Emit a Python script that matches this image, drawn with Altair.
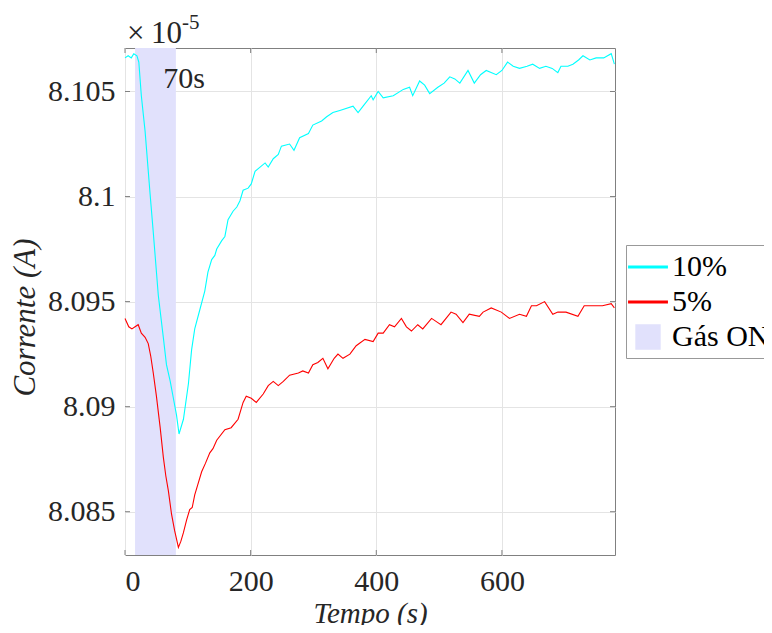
import altair as alt
import pandas as pd

# ---------------- data ----------------
cyan_t = [0, 5, 10, 14, 19, 22, 26, 32, 40, 45, 53, 61, 66, 72, 77, 82, 86, 93, 101, 106,
          111, 119, 127, 132, 138, 143, 146, 154, 159, 164, 172, 178, 183, 188, 196, 201, 207,
          215, 223, 228, 236, 244, 249, 262, 269, 278, 292, 299, 313, 321, 331, 342, 363, 371,
          379, 392, 395, 403, 411, 427, 443, 453, 458, 469, 477, 485, 498, 508, 517, 525, 533,
          546, 556, 566, 575, 591, 600, 609, 618, 628, 640, 649, 660, 670, 680, 689, 694, 705,
          713, 722, 729, 740, 750, 762, 774, 779]
cyan_v = [8.1066, 8.1067, 8.1066, 8.1068, 8.1067, 8.1064, 8.1048, 8.1031, 8.1001, 8.0983,
          8.0953, 8.0933, 8.0920, 8.0912, 8.0904, 8.0896, 8.0887, 8.0894, 8.0911, 8.0927,
          8.0937, 8.0946, 8.0955, 8.0964, 8.0970, 8.0972, 8.0975, 8.0979, 8.0981, 8.0989,
          8.0993, 8.0995, 8.0998, 8.1003, 8.1004, 8.1006, 8.1012, 8.1014, 8.1016, 8.1014,
          8.1018, 8.1020, 8.1024, 8.1025, 8.1022, 8.1028, 8.1030, 8.1034, 8.1036, 8.1038,
          8.1040, 8.1041, 8.1043, 8.1040, 8.1043, 8.1048, 8.1046, 8.1050, 8.1047, 8.1048,
          8.1051, 8.1052, 8.1048, 8.1055, 8.1053, 8.1049, 8.1052, 8.1054, 8.1057, 8.1056,
          8.1054, 8.1060, 8.1054, 8.1058, 8.1060, 8.1058, 8.1060, 8.1064, 8.1062, 8.1061,
          8.1062, 8.1063, 8.1061, 8.1062, 8.1061, 8.1059, 8.1062, 8.1062, 8.1063, 8.1065,
          8.1067, 8.1065, 8.1066, 8.1066, 8.1068, 8.1063]

red_t = [0, 6, 11, 16, 21, 26, 32, 37, 41, 45, 50, 56, 61, 65, 69, 74, 79, 85, 89, 93,
         98, 103, 107, 111, 116, 122, 128, 135, 140, 146, 159, 169, 180, 188, 193, 201, 209,
         220, 228, 236, 244, 252, 262, 276, 283, 292, 299, 307, 315, 323, 333, 339, 347, 358,
         368, 382, 395, 403, 411, 421, 429, 440, 448, 456, 466, 474, 488, 498, 503, 519, 527,
         538, 548, 564, 570, 583, 599, 612, 628, 639, 647, 655, 668, 681, 689, 702, 721, 731,
         745, 760, 774, 779]
red_v = [8.0942, 8.0938, 8.0937, 8.0938, 8.0939, 8.0935, 8.0933, 8.0930, 8.0924, 8.0916,
         8.0905, 8.0890, 8.0876, 8.0867, 8.0860, 8.0849, 8.0841, 8.0833, 8.0836, 8.0840,
         8.0846, 8.0851, 8.0852, 8.0858, 8.0863, 8.0869, 8.0873, 8.0878, 8.0880, 8.0884,
         8.0889, 8.0890, 8.0894, 8.0902, 8.0905, 8.0904, 8.0902, 8.0906, 8.0910, 8.0912,
         8.0910, 8.0912, 8.0915, 8.0916, 8.0917, 8.0916, 8.0920, 8.0921, 8.0923, 8.0918,
         8.0923, 8.0925, 8.0923, 8.0925, 8.0929, 8.0932, 8.0931, 8.0935, 8.0935, 8.0939,
         8.0938, 8.0942, 8.0938, 8.0936, 8.0939, 8.0937, 8.0942, 8.0940, 8.0939, 8.0945,
         8.0944, 8.0940, 8.0944, 8.0943, 8.0945, 8.0947, 8.0945, 8.0942, 8.0944, 8.0943,
         8.0948, 8.0948, 8.0950, 8.0944, 8.0945, 8.0945, 8.0943, 8.0948, 8.0948, 8.0948,
         8.0949, 8.0947]

gas_start = [16]
gas_end = [81]

series_names = ["10%", "5%", "Gás ON"]
series_colors = ["#00ffff", "#ff0000", "#e1e1fc"]
legend_paths = ["M-1.14,0L1.14,0", "M-1.14,0L1.14,0",
                "M-0.64,-0.64L0.64,-0.64L0.64,0.64L-0.64,0.64Z"]

x_ticks = [0, 200, 400, 600]
y_ticks = [8.085, 8.09, 8.095, 8.1, 8.105]
x_domain = [0, 780]
y_domain = [8.08294, 8.10707]

note_x = [61]
note_y = [8.10516]
note_text = ["70s"]
exp_times = ["×"]
exp_base = ["10"]
exp_power = ["-5"]

x_title = "Tempo (s)"
y_title = "Corrente (A)"

# ---------------- styling ----------------
FONT = "Liberation Serif, DejaVu Serif, Times New Roman, serif"
TXT = "#262626"
BOX = "#808080"
GRID = "#e4e4e4"
W, H = 490, 507

xs = alt.Scale(domain=x_domain, nice=False, zero=False)
ys = alt.Scale(domain=y_domain, nice=False, zero=False)
cs = alt.Scale(domain=series_names, range=series_colors)
ss = alt.Scale(domain=series_names, range=legend_paths)

lines_df = pd.concat([
    pd.DataFrame({"t": red_t, "v": red_v, "series": "5%"}),
    pd.DataFrame({"t": cyan_t, "v": cyan_v, "series": "10%"}),
], ignore_index=True)
gas_df = pd.DataFrame({"s": gas_start, "e": gas_end, "series": ["Gás ON"]})
legend_df = pd.DataFrame({"t": [-1000] * 3, "v": [8.0] * 3, "series": series_names})
xt_df = pd.DataFrame({"t": x_ticks})
yt_df = pd.DataFrame({"v": y_ticks})

x_axis = alt.Axis(values=x_ticks, tickSize=0, labelPadding=11, grid=True, gridColor=GRID,
                  domain=False, labelFont=FONT, labelFontSize=30, labelColor=TXT,
                  title=x_title, titleFont=FONT, titleFontSize=29, titleFontStyle="italic",
                  titleFontWeight="normal", titleColor=TXT, titleBaseline="alphabetic",
                  titleY=67)
y_axis = alt.Axis(values=y_ticks, format="~g", tickSize=0, labelPadding=10, grid=True,
                  gridColor=GRID, domain=False, labelFont=FONT, labelFontSize=30,
                  labelColor=TXT, title=y_title, titleFont=FONT, titleFontSize=31,
                  titleFontStyle="italic", titleFontWeight="normal", titleColor=TXT,
                  titleAngle=270, titleAlign="center", titleBaseline="alphabetic",
                  titleX=-91, titleY=269)

legend = alt.Legend(title=None, orient="none", legendX=501, legendY=197, fillColor="white",
                    strokeColor="#999999", padding=3, labelFont=FONT, labelFontSize=30,
                    labelColor="black", labelOffset=5, symbolStrokeWidth=3, symbolSize=1225,
                    rowPadding=1, labelLimit=0)

legend_layer = alt.Chart(legend_df).mark_point(filled=True, clip=True, opacity=1).encode(
    x=alt.X("t:Q", scale=xs, axis=x_axis),
    y=alt.Y("v:Q", scale=ys, axis=y_axis),
    color=alt.Color("series:N", scale=cs, legend=legend),
    stroke=alt.Stroke("series:N", scale=cs, legend=legend),
    shape=alt.Shape("series:N", scale=ss, legend=legend),
)

gas_layer = alt.Chart(gas_df).mark_rect(opacity=1).encode(
    x=alt.X("s:Q", scale=xs), x2="e:Q",
    y=alt.value(0), y2=alt.value(H),
    color=alt.Color("series:N", scale=cs, legend=None),
)

line_layer = alt.Chart(lines_df).mark_line(strokeWidth=1.1).encode(
    x=alt.X("t:Q", scale=xs),
    y=alt.Y("v:Q", scale=ys),
    color=alt.Color("series:N", scale=cs, legend=None),
    detail="series:N",
)

tick_style = dict(color=BOX, strokeWidth=1)
xt_bottom = alt.Chart(xt_df).mark_rule(**tick_style).encode(
    x=alt.X("t:Q", scale=xs), y=alt.value(H), y2=alt.value(H - 5))
xt_top = alt.Chart(xt_df).mark_rule(**tick_style).encode(
    x=alt.X("t:Q", scale=xs), y=alt.value(0), y2=alt.value(5))
yt_left = alt.Chart(yt_df).mark_rule(**tick_style).encode(
    y=alt.Y("v:Q", scale=ys), x=alt.value(0), x2=alt.value(5))
yt_right = alt.Chart(yt_df).mark_rule(**tick_style).encode(
    y=alt.Y("v:Q", scale=ys), x=alt.value(W), x2=alt.value(W - 5))

note_layer = alt.Chart(pd.DataFrame({"x": note_x, "y": note_y, "txt": note_text})).mark_text(
    font=FONT, fontSize=30, align="left", baseline="alphabetic", color=TXT
).encode(x=alt.X("x:Q", scale=xs), y=alt.Y("y:Q", scale=ys), text="txt:N")

exp_times_layer = alt.Chart(pd.DataFrame({"txt": exp_times})).mark_text(
    font=FONT, fontSize=31, align="left", baseline="alphabetic", color=TXT
).encode(x=alt.value(2), y=alt.value(-5), text="txt:N")
exp_base_layer = alt.Chart(pd.DataFrame({"txt": exp_base})).mark_text(
    font=FONT, fontSize=31, align="left", baseline="alphabetic", color=TXT
).encode(x=alt.value(26), y=alt.value(-5), text="txt:N")
exp_pow_layer = alt.Chart(pd.DataFrame({"txt": exp_power})).mark_text(
    font=FONT, fontSize=21, align="left", baseline="alphabetic", color=TXT
).encode(x=alt.value(57), y=alt.value(-19), text="txt:N")

chart = alt.layer(
    legend_layer, gas_layer, line_layer, xt_bottom, xt_top, yt_left, yt_right,
    note_layer, exp_times_layer, exp_base_layer, exp_pow_layer
).properties(
    width=W, height=H,
    autosize=alt.AutoSizeParams(type="none"),
    padding={"left": 117, "top": 40, "right": 149, "bottom": 70},
).configure(background="white").configure_view(stroke=BOX, strokeWidth=1)

chart.save("out.html", embed_options={"renderer": "svg", "actions": False})
